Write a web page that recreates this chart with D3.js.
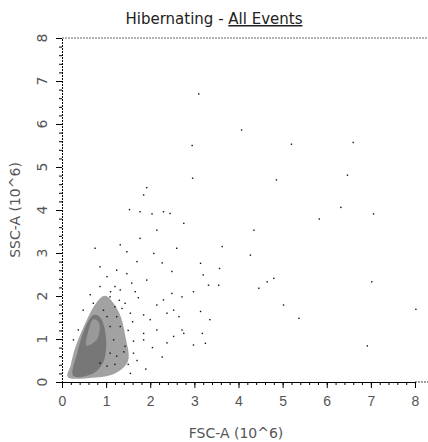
<!DOCTYPE html>
<html><head><meta charset="utf-8">
<script src="https://cdn.jsdelivr.net/npm/d3@7"></script>
<style>body{margin:0;background:#fff}svg{font-family:"DejaVu Sans",sans-serif}</style>
</head><body><div id="chart"></div>
<script>
// axis ticks (10^6)
const xTicks = [0, 1, 2, 3, 4, 5, 6, 7, 8];
const yTicks = [0, 1, 2, 3, 4, 5, 6, 7, 8];

// density regions of the main population [FSC, SSC]
const outerShell = [[0.15,0.1],[0.7,0.1],[1.2,0.2],[1.5,0.5],[1.45,1.0],[1.3,1.6],[1.0,2.0],[0.75,1.8],[0.5,1.3],[0.3,0.8],[0.2,0.4]];
const coreRegion = [[0.25,0.15],[0.7,0.2],[0.95,0.5],[1.0,1.0],[0.9,1.45],[0.7,1.55],[0.5,1.2],[0.35,0.7]];
const innerRegion = [[0.55,0.85],[0.8,1.0],[0.85,1.35],[0.7,1.45],[0.6,1.2]];

// scattered events [FSC, SSC]
const events = [
  [3.1,6.7],[4.07,5.86],[2.95,5.5],[5.2,5.53],[6.6,5.57],[2.96,4.74],[4.86,4.7],[6.47,4.81],
  [1.92,4.52],[1.85,4.35],[1.53,4.01],[1.77,3.96],[2.04,3.91],[2.3,3.96],[2.45,3.92],[6.32,4.06],
  [5.83,3.79],[7.06,3.91],[0.75,3.11],[1.32,3.19],[1.77,3.34],[2.15,3.53],[2.76,3.69],[4.35,3.53],
  [4.27,2.95],[3.63,3.15],[2.6,3.11],[3.14,2.76],[3.57,2.64],[3.2,2.49],[3.32,2.25],[3.55,2.25],
  [4.46,2.18],[4.8,2.41],[4.65,2.33],[5.02,1.79],[5.37,1.48],[7.02,2.33],[8.02,1.69],[6.92,0.84],
  [2.98,2.1],[3.14,1.64],[3.35,1.45],[3.18,1.13],[2.98,0.86],[3.25,0.9],[2.72,1.21],[2.65,1.52],
  [2.53,1.67],[2.15,1.79],[2.49,2.06],[2.72,1.98],[2.3,1.91],[2.49,2.57],[2.08,2.99],[1.7,2.8],
  [1.47,3.03],[2.27,2.77],[1.85,1.13],[2.15,1.21],[2.38,0.91],[2.27,0.58],[2.05,0.8],[1.85,0.98],
  [1.62,0.67],[1.5,0.41],[1.24,0.6],[1.17,0.98],[1.32,1.29],[1.55,1.6],[1.43,1.83],[1.2,2.22],
  [1.02,2.45],[0.86,2.68],[1.24,2.6],[1.58,2.3],[1.66,2.1],[1.92,2.37],[1.85,1.56],[2.38,1.6],
  [0.64,2.03],[0.48,1.67],[1.09,1.98],[1.36,1.71],[1.62,0.95],[1.09,0.67],[0.86,0.44],[0.71,1.83],
  [0.94,1.67],[1.24,1.52],[1.09,1.29],[0.86,2.22],[1.02,1.52],[1.2,1.75],[0.26,0.98],[0.37,1.21],
  [1.32,2.14],[1.47,2.52],[1.73,1.96],[2.0,1.45],[2.53,1.06],[2.76,1.13],[1.43,0.83],[1.2,0.41],
  [1.02,0.37],[1.1,2.1],[1.3,1.9],[1.5,1.2],[1.6,1.4],[1.4,0.7],[1.7,0.5],[1.9,0.3],[1.55,0.2]
];

const width = 428, height = 442;
const m = {left: 62, right: 415, top: 38, bottom: 382};
const x = d3.scaleLinear().domain([0, 8]).range([m.left, m.right]);
const y = d3.scaleLinear().domain([0, 8]).range([m.bottom, m.top]);

const svg = d3.select("#chart").append("svg").attr("width", width).attr("height", height);

svg.append("text").attr("x", 214).attr("y", 24).attr("text-anchor", "middle")
  .attr("font-size", 15).attr("fill", "#222")
  .html('Hibernating - <tspan text-decoration="underline">All Events</tspan>');

// top border
svg.append("line").attr("x1", m.left).attr("x2", width).attr("y1", m.top).attr("y2", m.top)
  .attr("stroke", "#666").attr("stroke-dasharray", "2,1");

const line = d3.line().x(d => x(d[0])).y(d => y(d[1])).curve(d3.curveCardinalClosed);
svg.append("path").attr("d", line(outerShell)).attr("fill", "#555").attr("opacity", 0.55);
svg.append("path").attr("d", line(coreRegion)).attr("fill", "#777");
svg.append("path").attr("d", line(innerRegion)).attr("fill", "#999");

svg.selectAll("rect.ev").data(events).join("rect").attr("class", "ev")
  .attr("x", d => x(d[0]) - 0.7).attr("y", d => y(d[1]) - 0.7)
  .attr("width", 1.4).attr("height", 1.4).attr("fill", "#111");

const xAxis = svg.append("g").attr("transform", `translate(0,${m.bottom})`)
  .call(d3.axisBottom(x).tickValues(d3.range(0, 8.01, 0.2)).tickSize(3).tickFormat(""));
xAxis.append("line").attr("x1", m.right).attr("x2", width).attr("stroke", "#444").attr("stroke-dasharray", "2,1");
svg.append("g").attr("transform", `translate(0,${m.bottom})`)
  .call(d3.axisBottom(x).tickValues(xTicks).tickSize(6).tickPadding(8))
  .call(g => g.select(".domain").remove())
  .selectAll("text").attr("font-size", 14).attr("fill", "#555");

const yAxis = svg.append("g").attr("transform", `translate(${m.left},0)`)
  .call(d3.axisLeft(y).tickValues(d3.range(0, 8.01, 0.2)).tickSize(3).tickFormat(""));
yAxis.select(".domain").attr("stroke-dasharray", "2,1");
svg.append("g").attr("transform", `translate(${m.left},0)`)
  .call(d3.axisLeft(y).tickValues(yTicks).tickSize(6).tickFormat(""))
  .call(g => g.select(".domain").remove());
svg.selectAll("text.yt").data(yTicks).join("text").attr("class", "yt")
  .attr("transform", d => `translate(42,${y(d)}) rotate(-90)`)
  .attr("text-anchor", "middle").attr("dy", "0.35em")
  .attr("font-size", 14).attr("fill", "#555").text(d => d);

svg.append("text").attr("x", 236).attr("y", 438).attr("text-anchor", "middle")
  .attr("font-size", 14).attr("fill", "#555").text("FSC-A (10^6)");
svg.append("text").attr("transform", `translate(20,${(m.top + m.bottom) / 2}) rotate(-90)`)
  .attr("text-anchor", "middle").attr("font-size", 14).attr("fill", "#555").text("SSC-A (10^6)");
</script></body></html>
